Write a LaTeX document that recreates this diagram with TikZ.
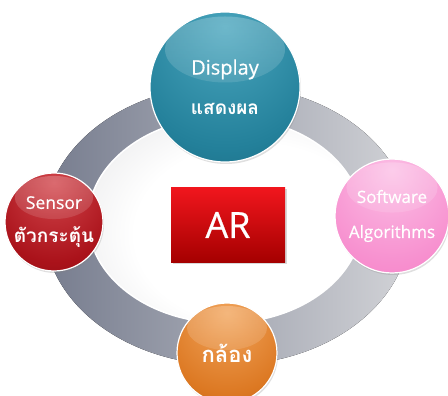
\documentclass[tikz,border=0pt]{standalone}
\usepackage{fontspec}
\setmainfont{Open Sans}[FakeBold=0.6]
\newfontfamily\thaifont[Script=Thai]{Loma}
\usetikzlibrary{shadows,fadings}

% palette
\definecolor{ringL}{HTML}{767C8E}
\definecolor{ringR}{HTML}{D2D3D7}
\definecolor{innerGray}{HTML}{CFCFD2}
\definecolor{tealA}{HTML}{4AA6BE}
\definecolor{tealB}{HTML}{23809A}
\definecolor{tealC}{HTML}{135468}
\definecolor{tealD}{HTML}{0B3845}
\definecolor{redA}{HTML}{D2464C}
\definecolor{redB}{HTML}{AA121A}
\definecolor{redC}{HTML}{730A0F}
\definecolor{redD}{HTML}{480306}
\definecolor{pinkA}{HTML}{FCC0E6}
\definecolor{pinkB}{HTML}{F790CF}
\definecolor{pinkC}{HTML}{F26DBC}
\definecolor{pinkD}{HTML}{EA58AD}
\definecolor{orA}{HTML}{F2A55C}
\definecolor{orB}{HTML}{DC7822}
\definecolor{orC}{HTML}{9E4C0E}
\definecolor{orD}{HTML}{6A3006}
\definecolor{arTop}{HTML}{F0161D}
\definecolor{arBot}{HTML}{A50000}

% glossy sphere shadings, lit from above
\pgfdeclareradialshading{ballteal}{\pgfpoint{0bp}{20bp}}{color(0bp)=(tealA); color(32bp)=(tealB); color(60bp)=(tealC); color(75bp)=(tealD)}
\pgfdeclareradialshading{ballred}{\pgfpoint{0bp}{20bp}}{color(0bp)=(redA); color(32bp)=(redB); color(60bp)=(redC); color(75bp)=(redD)}
\pgfdeclareradialshading{ballpink}{\pgfpoint{0bp}{20bp}}{color(0bp)=(pinkA); color(32bp)=(pinkB); color(60bp)=(pinkC); color(75bp)=(pinkD)}
\pgfdeclareradialshading{ballorange}{\pgfpoint{0bp}{20bp}}{color(0bp)=(orA); color(32bp)=(orB); color(60bp)=(orC); color(75bp)=(orD)}
% white centre of the ring, greying towards its rim
\pgfdeclareradialshading{ringcentre}{\pgfpoint{8bp}{-5bp}}{color(0bp)=(white); color(22bp)=(white); color(55bp)=(innerGray); color(70bp)=(innerGray)}

\tikzset{
  ball/.style={circle, minimum size=2*#1, inner sep=0pt, draw=white, line width=1.2pt,
    text=white, align=center,
    drop shadow={opacity=0.25, shadow xshift=1pt, shadow yshift=-2pt},
    path picture={
      \fill[white, path fading=south, fill opacity=0.22]
        ([yshift=-0.5*#1]path picture bounding box.north)
        ellipse [x radius=0.8*#1, y radius=0.44*#1];
    }},
  arbox/.style={rectangle, minimum width=114pt, minimum height=74pt, inner sep=0pt,
    top color=arTop, bottom color=arBot, text=white,
    font=\fontsize{36}{40}\selectfont,
    drop shadow={opacity=0.3, shadow xshift=1.5pt, shadow yshift=-1.5pt}}
}

\begin{document}
\begin{tikzpicture}[x=1pt, y=-1pt]
  \useasboundingbox[fill=white] (0,0) rectangle (448,396);

  % grey ring and its white centre
  \fill[even odd rule, left color=ringL, right color=ringR]
    (227,225) ellipse [x radius=183pt, y radius=140pt]
    (225,220) ellipse [x radius=137pt, y radius=103pt];
  \fill[shading=ringcentre]
    (225,220) ellipse [x radius=137pt, y radius=103pt];
  \draw[white, line width=1.5pt]
    (225,220) ellipse [x radius=137pt, y radius=103pt];

  % the four spheres
  \node[ball=75pt, shading=ballteal, font=\fontsize{20}{40}\selectfont] (disp) at (225,87)
    {Display\\{\thaifont\bfseries\fontsize{19}{40}\selectfont แสดงผล}};
  \node[ball=49pt, shading=ballred, font=\fontsize{17.5}{34}\selectfont] (sens) at (54,222)
    {Sensor\\{\thaifont\bfseries\fontsize{19}{34}\selectfont ตัวกระตุ้น}};
  \node[ball=57pt, shading=ballpink, font=\fontsize{17}{35}\selectfont] (soft) at (392,216)
    {Software\\Algorithms};
  \node[ball=50pt, shading=ballorange, font=\thaifont\bfseries\fontsize{22}{26}\selectfont] (cam) at (227,353)
    {กล้อง};

  % centre label
  \node[arbox] (ar) at (228,225) {AR};
\end{tikzpicture}
\end{document}
